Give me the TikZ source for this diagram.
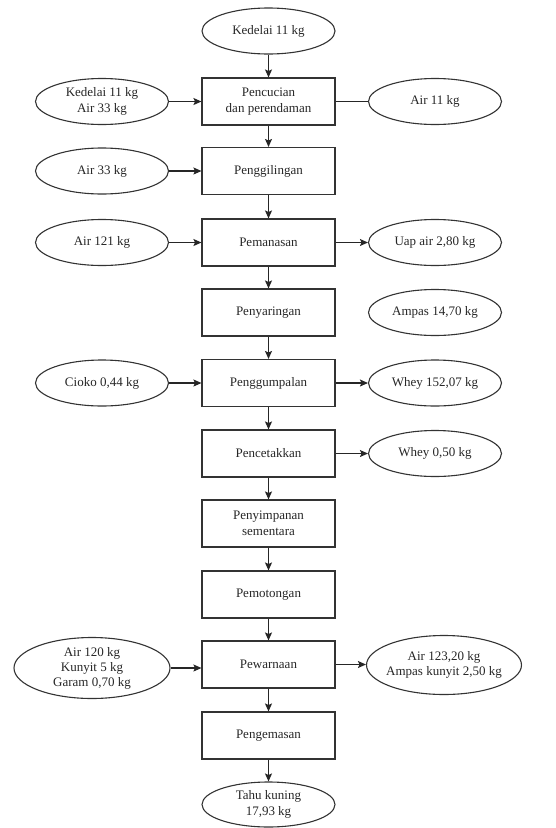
\documentclass[tikz,border=0pt]{standalone}
\usepackage{fontspec}
\setmainfont{Liberation Serif}
\usetikzlibrary{shapes.geometric,arrows.meta}
\begin{document}
\begin{tikzpicture}[x=1pt,y=-1pt,
  every node/.style={font=\fontsize{13}{16}\selectfont, text=black!85, align=center},
  procbox/.style={draw=black!80, line width=1.1pt, rectangle, minimum width=133pt, minimum height=47pt, inner sep=0pt},
  matl/.style={draw=black!80, line width=1.1pt, ellipse, minimum width=133pt, minimum height=46pt, inner sep=0pt},
  arr/.style={draw=black!85, line width=1.1pt, -{Stealth[length=8pt,width=7pt,inset=1.5pt]}},
  ln/.style={draw=black!85, line width=1.1pt}]
\useasboundingbox (0,0) rectangle (556,828);
\node[matl] (k0) at (268.5,31) {Kedelai 11 kg};
\node[procbox] (b1) at (268.5,101.5) {Pencucian\\dan perendaman};
\node[matl] (l1) at (102,101.5) {Kedelai 11 kg\\Air 33 kg};
\node[matl] (r1) at (435,101.5) {Air 11 kg};
\node[procbox] (b2) at (268.5,171) {Penggilingan};
\node[matl] (l2) at (102,171) {Air 33 kg};
\node[procbox] (b3) at (268.5,242.5) {Pemanasan};
\node[matl] (l3) at (102,242.5) {Air 121 kg};
\node[matl] (r3) at (435,242.5) {Uap air 2,80 kg};
\node[procbox] (b4) at (268.5,312.5) {Penyaringan};
\node[matl] (r4) at (435,312.5) {Ampas 14,70 kg};
\node[procbox] (b5) at (268.5,383) {Penggumpalan};
\node[matl] (l5) at (102,383) {Cioko 0,44 kg};
\node[matl] (r5) at (435,383) {Whey 152,07 kg};
\node[procbox] (b6) at (268.5,453.5) {Pencetakkan};
\node[matl] (r6) at (435,453.5) {Whey 0,50 kg};
\node[procbox] (b7) at (268.5,523.5) {Penyimpanan\\sementara};
\node[procbox] (b8) at (268.5,594.5) {Pemotongan};
\node[procbox] (b9) at (268.5,664.5) {Pewarnaan};
\node[matl, minimum width=156pt, minimum height=61pt, inner ysep=-4pt, font=\fontsize{13}{15}\selectfont] (l9) at (92,668) {Air 120 kg\\Kunyit 5 kg\\Garam 0,70 kg};
\node[matl, minimum width=155pt, minimum height=59pt, inner xsep=-10pt, font=\fontsize{13}{15}\selectfont] (r9) at (444,665) {Air 123,20 kg\\Ampas kunyit 2,50 kg};
\node[procbox] (b10) at (268.5,735.5) {Pengemasan};
\node[matl, minimum height=45pt] (k11) at (268.5,804.5) {Tahu kuning\\17,93 kg};
\draw[arr] (k0) -- (b1);
\draw[arr] (b1) -- (b2);
\draw[arr] (b2) -- (b3);
\draw[arr] (b3) -- (b4);
\draw[arr] (b4) -- (b5);
\draw[arr] (b5) -- (b6);
\draw[arr] (b6) -- (b7);
\draw[arr] (b7) -- (b8);
\draw[arr] (b8) -- (b9);
\draw[arr] (b9) -- (b10);
\draw[arr] (b10) -- (k11);
\draw[arr] (l1) -- (b1);
\draw[ln] (b1) -- (r1);
\draw[arr] (l2) -- (b2);
\draw[arr] (l3) -- (b3);
\draw[arr] (b3) -- (r3);
\draw[arr] (l5) -- (b5);
\draw[arr] (b5) -- (r5);
\draw[arr] (b6) -- (r6);
\draw[arr] (l9.east) -- (l9.east -| b9.west);
\draw[arr] (b9.east) -- (b9.east -| r9.west);
\end{tikzpicture}
\end{document}
